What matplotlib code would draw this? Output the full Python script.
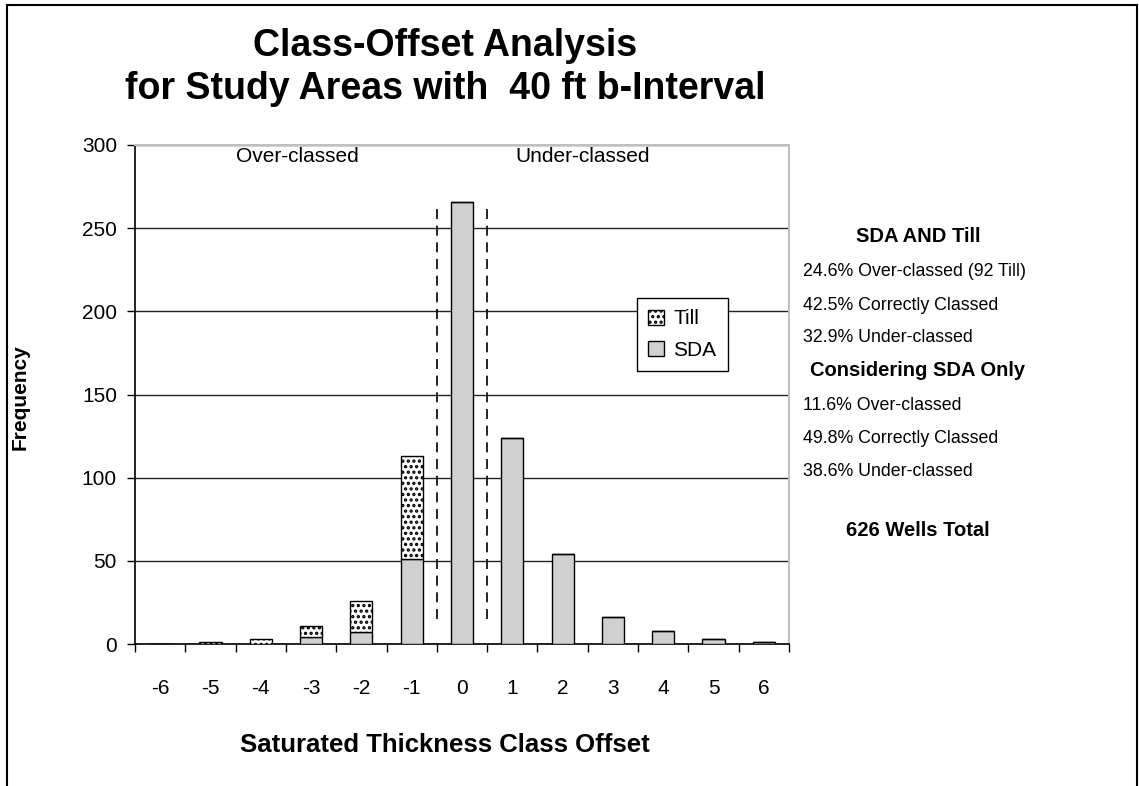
import numpy as np
import matplotlib.pyplot as plt
from matplotlib.patches import Rectangle

plt.rcParams['font.family'] = ['Liberation Sans', 'DejaVu Sans']
plt.rcParams['hatch.linewidth'] = 1.6

# class offset categories and well counts per category
offsets = [-6, -5, -4, -3, -2, -1, 0, 1, 2, 3, 4, 5, 6]
sda = [0, 0, 0, 4, 7, 51, 266, 124, 54, 16, 8, 3, 1]
till = [0, 1, 3, 7, 19, 62, 0, 0, 0, 0, 0, 0, 0]

sda_arr = np.array(sda)
till_arr = np.array(till)
off_arr = np.array(offsets)
total = sda_arr + till_arr
n_all = total.sum()
n_sda = sda_arr.sum()

W, H = 1139, 786
fig = plt.figure(figsize=(W / 100, H / 100), dpi=100)
ax = fig.add_axes([135 / W, 1 - 644 / H, 654 / W, 499 / H])

x = np.arange(len(offsets))
ax.bar(x, sda, width=0.44, color='#d0d0d0', edgecolor='black', linewidth=1,
       label='SDA', zorder=3)
ax.bar(x, till, width=0.44, bottom=sda, color='white', edgecolor='black',
       hatch='...', linewidth=1, label='Till', zorder=3)

ax.set_xlim(-0.5, len(offsets) - 0.5)
ax.set_ylim(0, 300)
ax.set_yticks(range(0, 301, 50))
ax.yaxis.grid(True, color='#222222', linewidth=1, zorder=0)

ax.set_xticks(x)
ax.set_xticklabels([str(o) for o in offsets])
ax.set_xticks(np.arange(-0.5, len(offsets), 1), minor=True)
ax.tick_params(axis='x', which='major', length=0, pad=25, labelsize=15)
ax.tick_params(axis='x', which='minor', length=6, width=1, direction='out')
ax.tick_params(axis='y', length=6, width=1, labelsize=15, pad=7)

for side in ['top', 'right']:
    ax.spines[side].set_color('#c0c0c0')
    ax.spines[side].set_linewidth(1.5)
ax.spines['left'].set_linewidth(1.2)
ax.spines['bottom'].set_linewidth(1.2)

# boundaries around the correctly classed bin
i0 = offsets.index(0)
for xb in [i0 - 0.5, i0 + 0.5]:
    ax.plot([xb, xb], [15, 265], color='black', linestyle=(0, (6, 4)),
            linewidth=1.2, zorder=4)

ax.text(offsets.index(-3) - 0.27, 293, 'Over-classed', ha='center', va='center', fontsize=15)
ax.text(offsets.index(2) + 0.4, 293, 'Under-classed', ha='center', va='center', fontsize=15)

handles, labels = ax.get_legend_handles_labels()
leg = ax.legend(handles[::-1], labels[::-1], loc='upper left',
                bbox_to_anchor=((637 - 135) / 654, (644 - 298) / 499),
                fontsize=15, frameon=True, fancybox=False, framealpha=1,
                edgecolor='black', handlelength=0.75, handleheight=0.75,
                handletextpad=0.45, borderpad=0.55, labelspacing=0.6,
                borderaxespad=0)
leg.get_frame().set_linewidth(1)

fig.text(20 / W, 1 - 397 / H, 'Frequency', rotation=90, ha='center', va='center',
         fontsize=15, fontweight='bold')
fig.text(445 / W, 1 - 745 / H, 'Saturated Thickness Class Offset',
         ha='center', va='center', fontsize=18.5, fontweight='bold')

fig.text(445 / W, 1 - 46 / H, 'Class-Offset Analysis',
         ha='center', va='center', fontsize=27, fontweight='bold')
fig.text(445 / W, 1 - 89 / H, 'for Study Areas with  40 ft b-Interval',
         ha='center', va='center', fontsize=27, fontweight='bold')

# summary statistics
over_all = total[off_arr < 0].sum()
corr_all = total[off_arr == 0].sum()
under_all = total[off_arr > 0].sum()
over_sda = sda_arr[off_arr < 0].sum()
corr_sda = sda_arr[off_arr == 0].sum()
under_sda = sda_arr[off_arr > 0].sum()

def pct(v, n):
    return f'{100 * v / n:.1f}%'

lx = 803 / W
cx = 918 / W
body = 12.8
fig.text(cx, 1 - 237 / H, 'SDA AND Till', ha='center', va='center',
         fontsize=14.5, fontweight='bold')
fig.text(lx, 1 - 272 / H, f'{pct(over_all, n_all)} Over-classed ({till_arr.sum()} Till)',
         ha='left', va='center', fontsize=body)
fig.text(lx, 1 - 305 / H, f'{pct(corr_all, n_all)} Correctly Classed',
         ha='left', va='center', fontsize=body)
fig.text(lx, 1 - 338 / H, f'{pct(under_all, n_all)} Under-classed',
         ha='left', va='center', fontsize=body)
fig.text(cx, 1 - 371 / H, 'Considering SDA Only', ha='center', va='center',
         fontsize=14.5, fontweight='bold')
fig.text(lx, 1 - 405 / H, f'{pct(over_sda, n_sda)} Over-classed',
         ha='left', va='center', fontsize=body)
fig.text(lx, 1 - 438 / H, f'{pct(corr_sda, n_sda)} Correctly Classed',
         ha='left', va='center', fontsize=body)
fig.text(lx, 1 - 471 / H, f'{pct(under_sda, n_sda)} Under-classed',
         ha='left', va='center', fontsize=body)
fig.text(cx, 1 - 530 / H, f'{n_all} Wells Total', ha='center', va='center',
         fontsize=14.5, fontweight='bold')

# chart border
fig.patches.append(Rectangle((7 / W, -0.05), 1130 / W, 1.05 - 5 / H,
                             transform=fig.transFigure, fill=False,
                             edgecolor='black', linewidth=1.5))

fig.savefig('out.png', dpi=100)
